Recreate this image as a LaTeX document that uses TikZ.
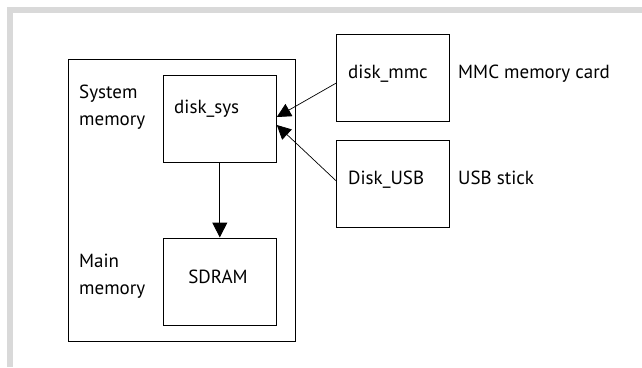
\documentclass[tikz,border=0pt]{standalone}
\usepackage{fontspec}
\setmainfont{PT Sans}
\usetikzlibrary{arrows.meta}
\begin{document}
\begin{tikzpicture}[x=1pt,y=-1pt,
  box/.style={draw=black,line width=1pt,minimum width=113pt,minimum height=87pt,inner sep=0pt},
  lbl/.style={font=\fontsize{19}{26.5}\selectfont,inner sep=0pt,anchor=base west,align=left},
  arr/.style={line width=0.7pt,-{Triangle[length=14pt,width=14pt]}}]
\useasboundingbox (0,0) rectangle (642,367);
\fill[gray!30] (7,7) rectangle (642,13);
\fill[gray!30] (7,7) rectangle (13,367);
\node[draw=black,line width=1pt,minimum width=227pt,minimum height=282pt,inner sep=0pt] (outer) at (181.7,200.3) {};
\node[box] (sys) at (219.8,118.8) {};
\node[box] (sdram) at (219.8,281.5) {};
\node[box] (mmc) at (393.3,77.6) {};
\node[box] (usb) at (393.3,183.6) {};
\node[lbl] (tsys) at (174,113) {disk\_sys};
\node[lbl,anchor=base] (tsdram) at (218,283) {SDRAM};
\node[lbl] (tmmc) at (348,78) {disk\_mmc};
\node[lbl] (tusb) at (348,184) {Disk\_USB};
\node[lbl] (cmmc) at (458,78) {MMC memory card};
\node[lbl] (cusb) at (458,184) {USB stick};
\node[lbl,anchor=north west] (sysmem) at (79,85) {System\\memory};
\node[lbl,anchor=north west] (mainmem) at (79,254) {Main\\memory};
\coordinate (a1) at (mmc.west |- 0,83);
\coordinate (a1e) at (sys.east |- 0,117);
\coordinate (a2) at (usb.west |- 0,181);
\coordinate (a2e) at (sys.east |- 0,125);
\draw[arr] (a1) -- (a1e);
\draw[arr] (a2) -- (a2e);
\draw[line width=1pt,-{Triangle[length=15pt,width=15pt]}] (sys.south) -- (sdram.north);
\end{tikzpicture}
\end{document}
